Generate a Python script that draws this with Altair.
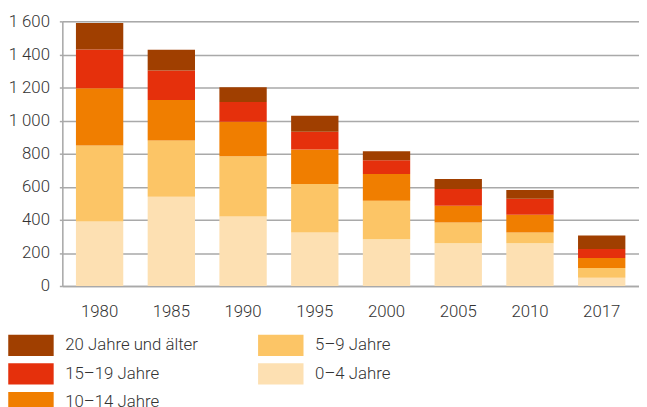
import altair as alt
import pandas as pd

years = ["1980", "1985", "1990", "1995", "2000", "2005", "2010", "2017"]
groups = ["0–4 Jahre", "5–9 Jahre", "10–14 Jahre", "15–19 Jahre", "20 Jahre und älter"]
age_0_4 = [390, 539, 420, 324, 282, 258, 258, 50]
age_5_9 = [460, 340, 364, 293, 233, 126, 66, 59]
age_10_14 = [346, 245, 209, 209, 162, 101, 107, 60]
age_15_19 = [234, 179, 119, 107, 83, 102, 96, 54]
age_20_plus = [160, 126, 89, 96, 54, 60, 54, 83]
colors = ["#FDE0B2", "#FCC566", "#F07E00", "#E5300C", "#A03F00"]

series = [age_0_4, age_5_9, age_10_14, age_15_19, age_20_plus]
rows = []
for gi, (g, vals) in enumerate(zip(groups, series)):
    for y, v in zip(years, vals):
        rows.append({"Jahr": y, "Gruppe": g, "Wert": v, "Ordnung": gi})
df = pd.DataFrame(rows)

# legend order (filled column by column in 2 columns)
legend_order = groups[::-1]
legend_colors = colors[::-1]

FONT = "Roboto"
TEXT = "#333333"
GRID = "#a9a9a9"

chart = alt.Chart(df).mark_bar().encode(
    x=alt.X("Jahr:N", sort=years, title=None,
            scale=alt.Scale(paddingInner=0.34, paddingOuter=0.19),
            axis=alt.Axis(labelAngle=0, ticks=False, domain=True, domainColor=GRID,
                          domainWidth=1.5, labelPadding=18, labelFontSize=17,
                          labelFont=FONT, labelFontWeight=300, labelColor=TEXT)),
    y=alt.Y("Wert:Q", title=None, stack="zero",
            scale=alt.Scale(domain=[0, 1600], nice=False),
            axis=alt.Axis(values=list(range(0, 1601, 200)),
                          labelExpr="replace(format(datum.value, ','), ',', ' ')",
                          grid=True, gridColor=GRID, gridWidth=1.5,
                          domain=True, domainColor=GRID, domainWidth=1.5,
                          ticks=True, tickSize=3, tickColor=GRID, tickWidth=1.5,
                          labelPadding=10, labelFontSize=17, labelFont=FONT,
                          labelFontWeight=300, labelColor=TEXT)),
    color=alt.Color("Gruppe:N",
                    scale=alt.Scale(domain=legend_order, range=legend_colors),
                    legend=alt.Legend(title=None, orient="none", legendX=-55, legendY=317,
                                      columns=2, columnPadding=60, rowPadding=7,
                                      symbolType="M-1,-1 L3.28,-1 L3.28,1 L-1,1 Z",
                                      symbolSize=462, symbolStrokeWidth=0,
                                      symbolOpacity=1,
                                      labelOffset=36, labelFontSize=17, labelFont=FONT,
                                      labelFontWeight=300, labelColor=TEXT, labelLimit=300)),
    order=alt.Order("Ordnung:Q", sort="ascending"),
).properties(
    width=584, height=268,
    autosize=alt.AutoSizeParams(type="none"),
    padding={"left": 55, "top": 11, "right": 0, "bottom": 120},
).configure_view(
    fill="#efefef", stroke="transparent"
).configure(background="white")

chart.save("out.html", embed_options={"renderer": "svg", "actions": False})
